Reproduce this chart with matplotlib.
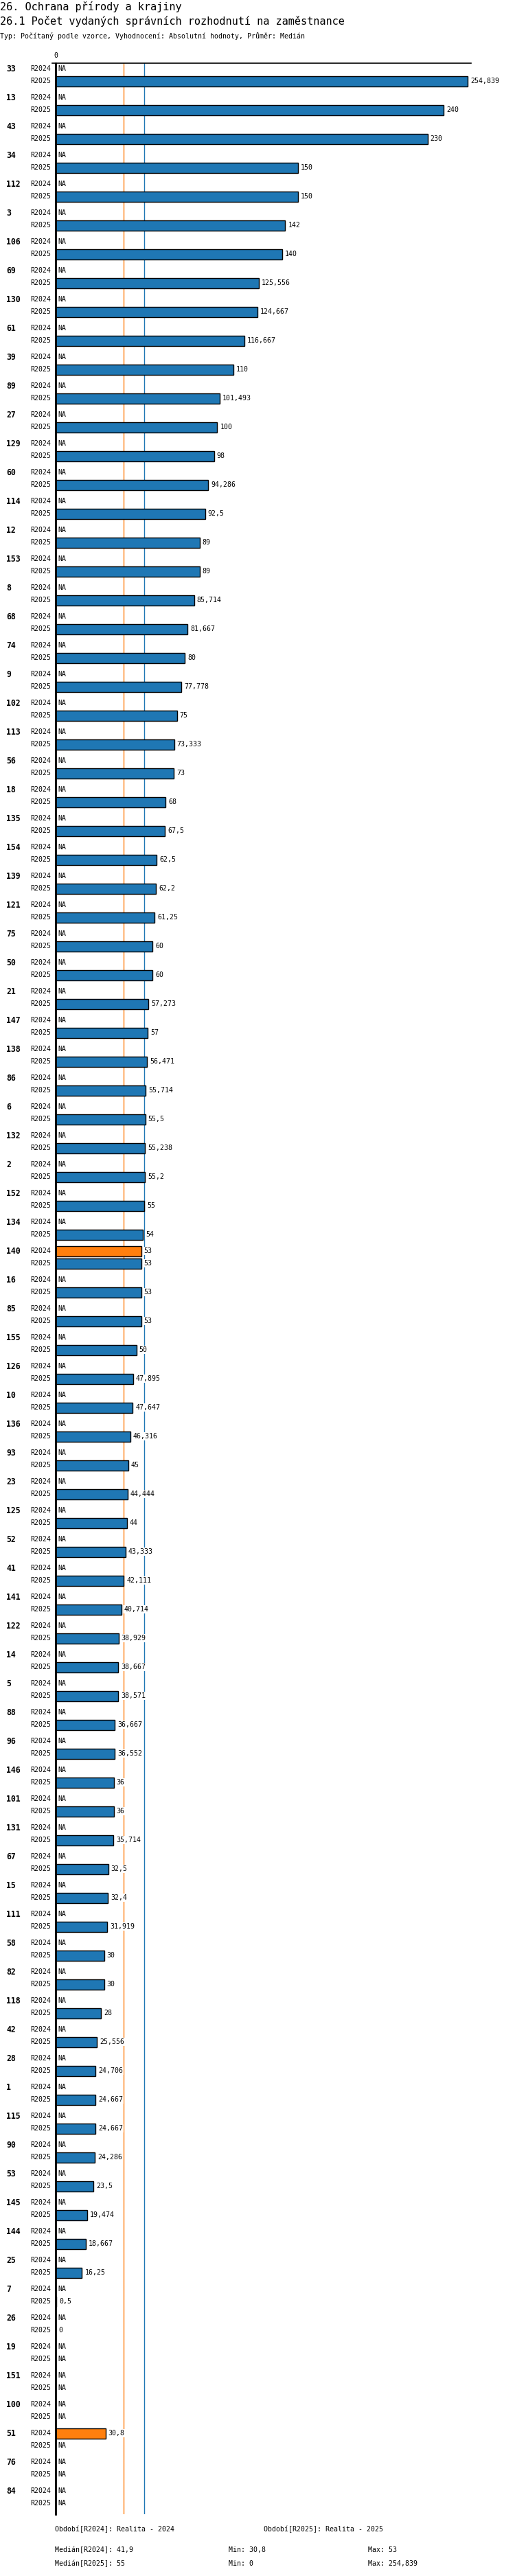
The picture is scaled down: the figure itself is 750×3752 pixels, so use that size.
import matplotlib
matplotlib.use("Agg")
import matplotlib.pyplot as plt
import numpy as np

W, H = 750, 3752

categories = ["33", "13", "43", "34", "112", "3", "106", "69", "130", "61",
              "39", "89", "27", "129", "60", "114", "12", "153", "8", "68",
              "74", "9", "102", "113", "56", "18", "135", "154", "139", "121",
              "75", "50", "21", "147", "138", "86", "6", "132", "2", "152",
              "134", "140", "16", "85", "155", "126", "10", "136", "93", "23",
              "125", "52", "41", "141", "122", "14", "5", "88", "96", "146",
              "101", "131", "67", "15", "111", "58", "82", "118", "42", "28",
              "1", "115", "90", "53", "145", "144", "25", "7", "26", "19",
              "151", "100", "51", "76", "84"]

nan = np.nan
r2024 = [nan] * len(categories)
r2024[categories.index("140")] = 53
r2024[categories.index("51")] = 30.8

r2025 = [254.839, 240, 230, 150, 150, 142, 140, 125.556, 124.667, 116.667,
         110, 101.493, 100, 98, 94.286, 92.5, 89, 89, 85.714, 81.667,
         80, 77.778, 75, 73.333, 73, 68, 67.5, 62.5, 62.2, 61.25,
         60, 60, 57.273, 57, 56.471, 55.714, 55.5, 55.238, 55.2, 55,
         54, 53, 53, 53, 50, 47.895, 47.647, 46.316, 45, 44.444,
         44, 43.333, 42.111, 40.714, 38.929, 38.667, 38.571, 36.667, 36.552, 36,
         36, 35.714, 32.5, 32.4, 31.919, 30, 30, 28, 25.556, 24.706,
         24.667, 24.667, 24.286, 23.5, 19.474, 18.667, 16.25, 0.5, 0, nan,
         nan, nan, nan, nan, nan]

series_names = ["R2024", "R2025"]
series_colors = ["#ff7f0e", "#1f77b4"]
median_2024 = 41.9
median_2025 = 55

title = "26. Ochrana přírody a krajiny"
subtitle = "26.1 Počet vydaných správních rozhodnutí na zaměstnance"
typeline = "Typ: Počítaný podle vzorce, Vyhodnocení: Absolutní hodnoty, Průměr: Medián"
footer_period = ["Období[R2024]: Realita - 2024", "Období[R2025]: Realita - 2025"]
footer_stats = [["Medián[R2024]: 41,9", "Min: 30,8", "Max: 53"],
                ["Medián[R2025]: 55", "Min: 0", "Max: 254,839"]]

MONO = "DejaVu Sans Mono"
plt.rcParams['font.family'] = [MONO, 'DejaVu Sans']


def fmt(v):
    s = f"{v:.3f}".rstrip('0').rstrip('.')
    return s.replace('.', ',')


fig = plt.figure(figsize=(W / 100, H / 100), dpi=100)

# axes in pixel layout
ax_left, ax_right = 81, 686
ax_top, ax_bot = 92, 3662
ax = fig.add_axes([ax_left / W, 1 - ax_bot / H, (ax_right - ax_left) / W, (ax_bot - ax_top) / H])
all_vals = [v for v in r2025 + r2024 if not np.isnan(v)]
xmax = max(all_vals) * 605 / 600
ax.set_xlim(0, xmax)
ax.set_ylim(ax_bot - ax_top, 0)
ax.axis('off')

n = len(categories)
step = 42
bar_h = 15
y24 = np.array([8 + step * i for i in range(n)])
y25 = y24 + 18

px_per_unit = (ax_right - ax_left) / xmax

# median lines
ax.plot([median_2024, median_2024], [0, ax_bot - ax_top], color=series_colors[0], lw=1.0, zorder=1)
ax.plot([median_2025, median_2025], [0, ax_bot - ax_top], color=series_colors[1], lw=1.0, zorder=1)

for vals, ys, col in [(r2024, y24, series_colors[0]), (r2025, y25, series_colors[1])]:
    for v, y in zip(vals, ys):
        if np.isnan(v):
            ax.text(3 / px_per_unit, y, "NA", ha='left', va='center', fontsize=7.1,
                    family=MONO, zorder=4)
        else:
            if v > 0:
                ax.barh(y, v, height=bar_h, color=col, edgecolor='black', linewidth=1.0, zorder=2)
            ax.text(v + 4 / px_per_unit, y, fmt(v), ha='left', va='center', fontsize=7.1,
                    family=MONO, zorder=4,
                    bbox=dict(facecolor='white', edgecolor='none', pad=0.6))

# row labels
for c, a, b in zip(categories, y24, y25):
    ax.text(-72 / px_per_unit, a, c, ha='left', va='center', fontsize=8.3,
            fontweight='bold', family=MONO, clip_on=False)
    ax.text(-7 / px_per_unit, a, series_names[0], ha='right', va='center', fontsize=7.1,
            family=MONO, clip_on=False)
    ax.text(-7 / px_per_unit, b, series_names[1], ha='right', va='center', fontsize=7.1,
            family=MONO, clip_on=False)

# axes lines
ax.plot([0, 0], [0, ax_bot - ax_top], color='black', lw=2.0, zorder=5, clip_on=False)
ax.plot([-5 / px_per_unit, xmax], [0, 0], color='black', lw=1.2, zorder=5, clip_on=False)
ax.text(0, -11, "0", ha='center', va='center', fontsize=7.1, family=MONO, clip_on=False)


def ftext(x, y, s, **kw):
    fig.text(x / W, 1 - y / H, s, va='center', **kw)


ftext(0, 10, title, fontsize=11.0, family=MONO)
ftext(0, 31, subtitle, fontsize=11.0, family=MONO)
ftext(0, 52, typeline, fontsize=7.1, family=MONO)

ftext(80, 3684, footer_period[0], fontsize=7.1, family=MONO)
ftext(384, 3684, footer_period[1], fontsize=7.1, family=MONO)
for row, yy in zip(footer_stats, [3714, 3734]):
    for s, xx in zip(row, [80, 333, 536]):
        ftext(xx, yy, s, fontsize=7.1, family=MONO)

fig.savefig("out.png", dpi=100, facecolor='white')
